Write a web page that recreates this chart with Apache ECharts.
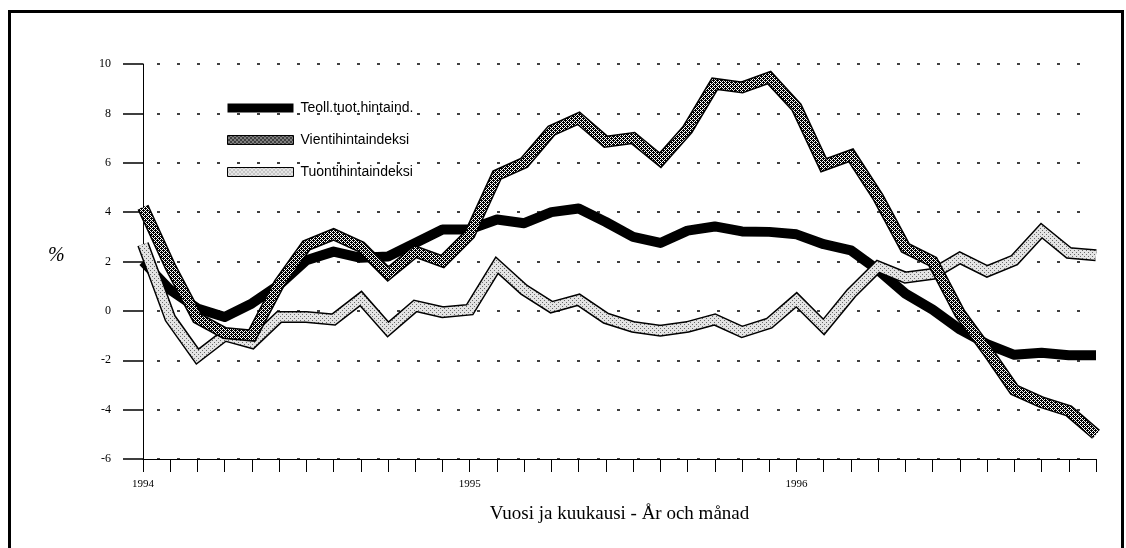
<!DOCTYPE html>
<html>
<head>
<meta charset="utf-8">
<script src="https://cdn.jsdelivr.net/npm/echarts@6/dist/echarts.min.js"></script>
<style>
  html, body { margin: 0; padding: 0; background: #fff; }
  #chart { width: 1126px; height: 548px; }
</style>
</head>
<body>
<div id="chart"></div>
<script>
// kuukaudet 1994-01 ... 1996-12
const years = ['1994', '1995', '1996'];
const months = [];
years.forEach(y => {
  for (let m = 1; m <= 12; m++) months.push(y + '-' + (m < 10 ? '0' + m : m));
});

// muutos %, luettu kuvasta
const teoll = [2.0, 0.85, 0.1, -0.25, 0.3, 1.05, 2.05, 2.4, 2.15, 2.2, 2.75, 3.3,
  3.3, 3.7, 3.55, 4.0, 4.15, 3.6, 3.0, 2.75, 3.25, 3.42, 3.22, 3.2,
  3.1, 2.7, 2.45, 1.65, 0.7, 0.05, -0.75, -1.35, -1.78, -1.7, -1.8, -1.8];
const vienti = [4.2, 1.8, -0.3, -0.9, -1.0, 1.1, 2.65, 3.1, 2.6, 1.5, 2.4, 2.0,
  3.1, 5.5, 6.0, 7.3, 7.8, 6.85, 7.0, 6.1, 7.35, 9.2, 9.05, 9.45,
  8.25, 5.9, 6.3, 4.6, 2.55, 2.0, -0.1, -1.6, -3.2, -3.7, -4.05, -5.0];
const tuonti = [2.7, -0.3, -1.85, -1.0, -1.3, -0.25, -0.25, -0.35, 0.5, -0.75, 0.2, -0.05,
  0.05, 1.85, 0.85, 0.15, 0.45, -0.3, -0.65, -0.8, -0.65, -0.35, -0.85, -0.5,
  0.45, -0.65, 0.7, 1.8, 1.35, 1.5, 2.15, 1.6, 2.05, 3.25, 2.35, 2.25];

const names = ['Teoll.tuot.hintaind.', 'Vientihintaindeksi', 'Tuontihintaindeksi'];

// kuviot viivojen täyttöön
function makePattern(bg, fg, dots) {
  const c = document.createElement('canvas');
  c.width = 4; c.height = 4;
  const ctx = c.getContext('2d');
  ctx.fillStyle = bg;
  ctx.fillRect(0, 0, 4, 4);
  ctx.fillStyle = fg;
  dots.forEach(d => ctx.fillRect(d[0], d[1], 1, 1));
  return { image: c, repeat: 'repeat' };
}
const hatch = makePattern('#ffffff', '#000000',
  [[0, 0], [1, 1], [2, 2], [3, 3], [3, 1], [1, 3], [2, 0], [0, 2], [1, 0], [3, 2]]);
const dotted = makePattern('#e4e4e4', '#6a6a6a', [[0, 0], [2, 2]]);

// reunaviiva + kuvioitu täyttö
function band(name, data, fill) {
  return [
    {
      name: name, type: 'line', data: data, symbol: 'none', silent: true,
      lineStyle: { color: '#000', width: 12, join: 'miter', miterLimit: 2, cap: 'butt' }
    },
    {
      name: name, type: 'line', data: data, symbol: 'none', silent: true,
      lineStyle: { color: fill, width: 9, join: 'miter', miterLimit: 2, cap: 'butt' }
    }
  ];
}

const chart = echarts.init(document.getElementById('chart'));

const option = {
  animation: false,
  backgroundColor: '#fff',
  grid: { left: 143, right: 30, top: 64, bottom: 89 },
  legend: {
    orient: 'vertical',
    left: 222,
    top: 96,
    itemWidth: 66,
    itemHeight: 9,
    itemGap: 18,
    selectedMode: false,
    textStyle: { fontFamily: 'Liberation Sans', fontSize: 14, color: '#000', padding: [0, 0, 0, 2] },
    data: [
      { name: names[0], icon: 'rect', itemStyle: { color: '#000', borderWidth: 0 } },
      { name: names[1], icon: 'rect', itemStyle: { color: hatch, borderColor: '#000', borderWidth: 1 } },
      { name: names[2], icon: 'rect', itemStyle: { color: dotted, borderColor: '#000', borderWidth: 1 } }
    ]
  },
  graphic: [
    {
      type: 'rect', left: 7, top: 9, silent: true,
      shape: { width: 1113, height: 560 },
      style: { fill: 'none', stroke: '#000', lineWidth: 3 }
    },
    {
      type: 'text', left: 48, top: 246, silent: true,
      style: { text: '%', font: 'italic 20px "Liberation Serif"', fill: '#000' }
    }
  ],
  xAxis: {
    type: 'category',
    boundaryGap: false,
    data: months,
    name: 'Vuosi ja kuukausi - År och månad',
    nameLocation: 'middle',
    nameGap: 46,
    nameTextStyle: { fontFamily: 'Liberation Serif', fontSize: 19, color: '#000' },
    axisLine: { onZero: false, lineStyle: { color: '#000', width: 1 } },
    axisTick: { show: true, interval: 0, length: 13, lineStyle: { color: '#000' } },
    axisLabel: {
      interval: 0,
      margin: 20,
      fontFamily: 'Liberation Serif',
      fontSize: 11,
      color: '#000',
      formatter: v => (v.slice(5) === '01' ? v.slice(0, 4) : '')
    }
  },
  yAxis: {
    type: 'value',
    min: -6,
    max: 10,
    interval: 2,
    axisLine: { show: true, lineStyle: { color: '#000', width: 1 } },
    axisTick: { show: true, length: 20, lineStyle: { color: '#000', width: 1.5 } },
    axisLabel: { margin: 32, fontFamily: 'Liberation Serif', fontSize: 12, color: '#000' },
    splitLine: { show: true, lineStyle: { color: '#000', width: 1.5, type: [3, 17], dashOffset: -14 } }
  },
  series: [
    {
      name: names[0], type: 'line', data: teoll, symbol: 'none', silent: true,
      lineStyle: { color: '#000', width: 10, join: 'round', cap: 'butt' }
    }
  ].concat(band(names[2], tuonti, dotted), band(names[1], vienti, hatch))
};

chart.setOption(option);
</script>
</body>
</html>
